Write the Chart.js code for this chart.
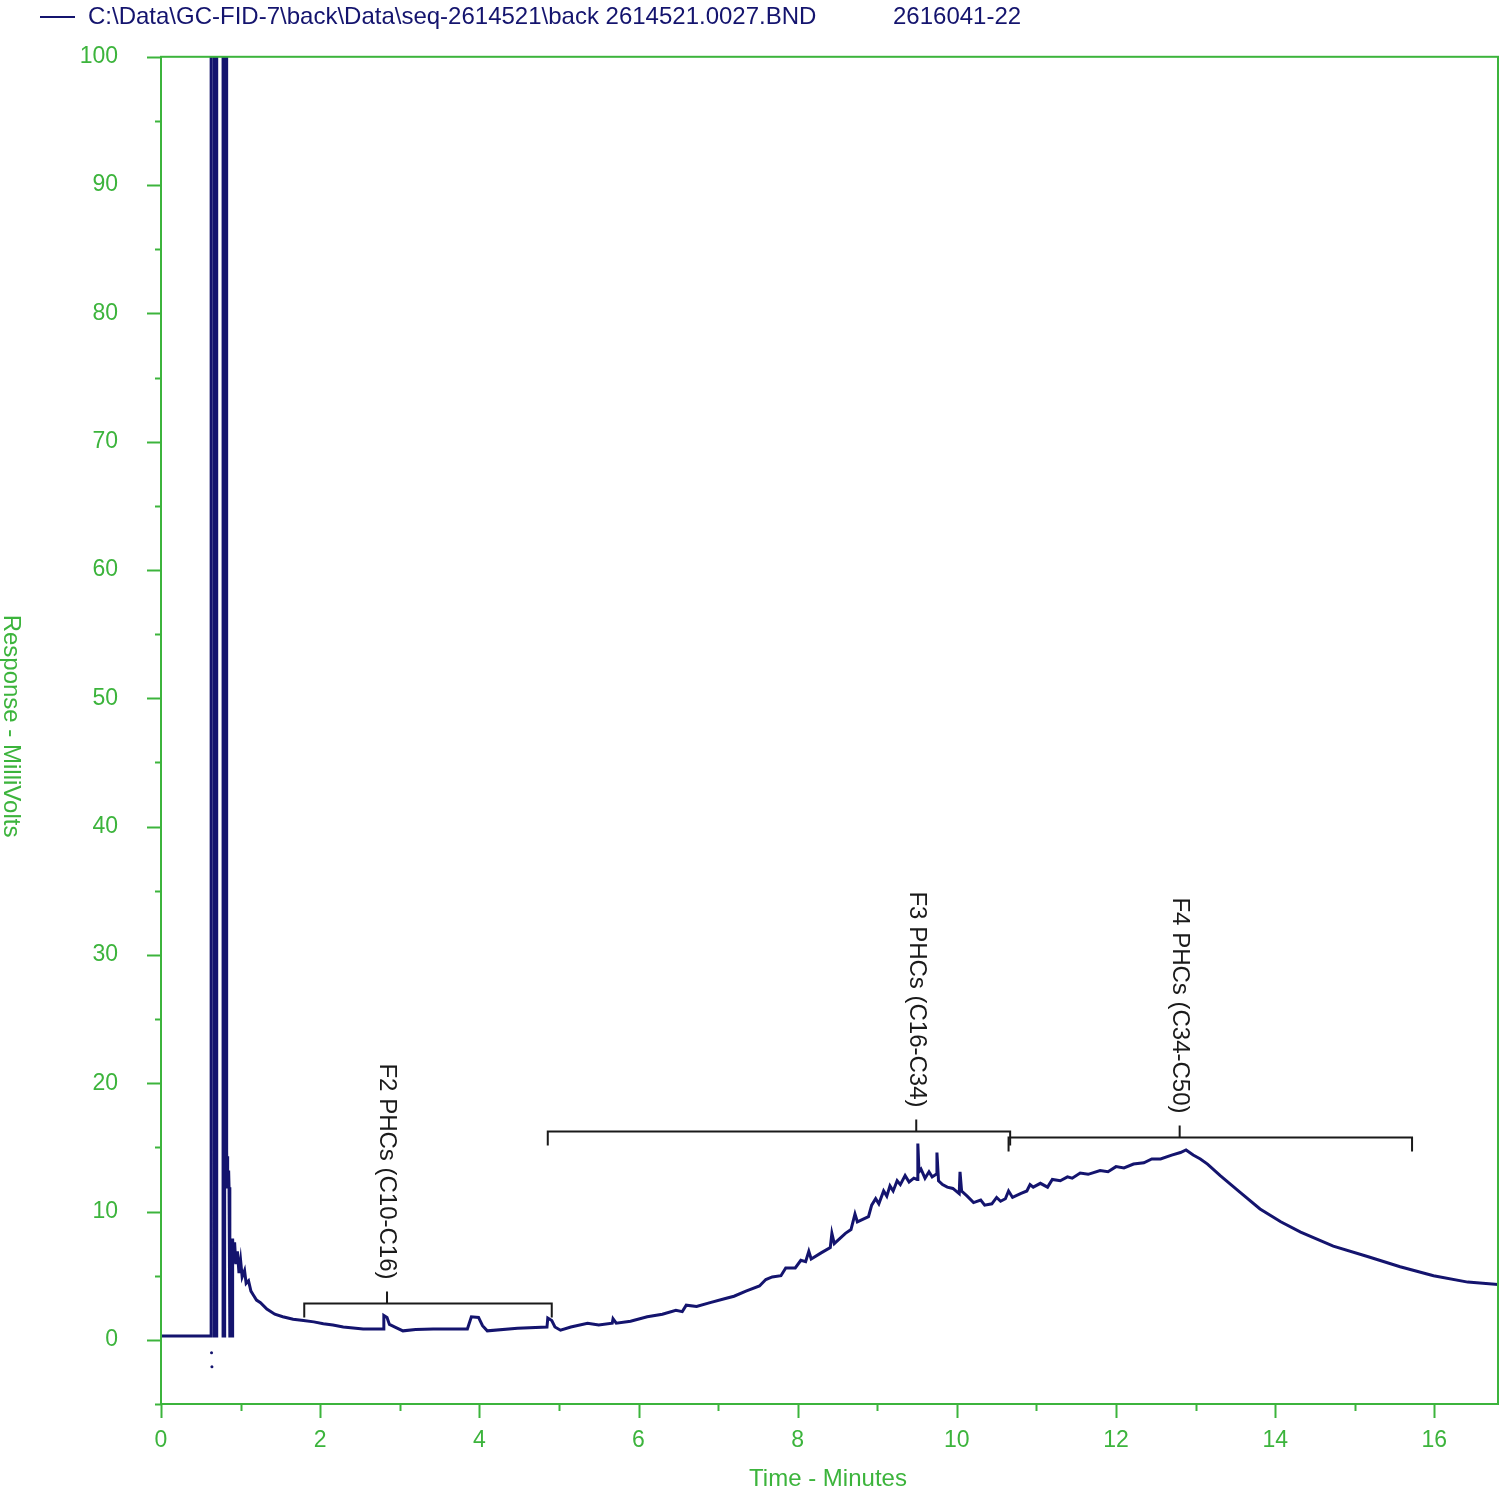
<!DOCTYPE html>
<html>
<head>
<meta charset="utf-8">
<script src="https://cdn.jsdelivr.net/npm/chart.js@4.4.1/dist/chart.umd.min.js"></script>
<style>
  html, body { margin: 0; padding: 0; background: #fff; overflow: hidden; }
  #wrap { width: 1506px; height: 1494px; position: relative; }
  #gc { display: block; }
</style>
</head>
<body>
<div id="wrap"><canvas id="gc"></canvas></div>
<script>
// chromatogram trace (minutes, millivolts)
const times = [
  0, 0.63, 0.63, 0.67, 0.67, 0.70, 0.70, 0.78, 0.78, 0.80, 0.80, 0.825, 0.825, 0.83, 0.835, 0.84, 0.85, 0.855, 0.865, 0.865,
  0.90, 0.90, 0.91, 0.925, 0.94, 0.96, 0.98, 1.00, 1.02, 1.05, 1.07, 1.10, 1.13, 1.16, 1.20, 1.25, 1.33, 1.43, 1.53, 1.66,
  1.79, 1.92, 2.04, 2.16, 2.29, 2.54, 2.79, 2.80, 2.84, 2.87, 2.94, 3.04, 3.20, 3.42, 3.85, 3.90, 3.99, 4.04, 4.10, 4.48,
  4.85, 4.86, 4.91, 4.95, 5.02, 5.15, 5.36, 5.50, 5.67, 5.68, 5.72, 5.90, 6.11, 6.30, 6.47, 6.55, 6.60, 6.73, 6.90, 7.08,
  7.20, 7.35, 7.52, 7.60, 7.68, 7.79, 7.85, 7.97, 8.04, 8.10, 8.14, 8.17, 8.30, 8.41, 8.43, 8.46, 8.60, 8.67, 8.72, 8.75,
  8.89, 8.93, 8.98, 9.02, 9.08, 9.12, 9.16, 9.20, 9.25, 9.29, 9.35, 9.40, 9.46, 9.50, 9.51, 9.525, 9.55, 9.60, 9.65, 9.69,
  9.74, 9.75, 9.77, 9.82, 9.88, 9.95, 10.03, 10.04, 10.06, 10.13, 10.21, 10.30, 10.35, 10.44, 10.50, 10.55, 10.61, 10.65, 10.70, 10.80,
  10.88, 10.92, 10.96, 11.05, 11.14, 11.20, 11.30, 11.39, 11.45, 11.55, 11.65, 11.80, 11.90, 12.00, 12.10, 12.22, 12.35, 12.45, 12.56, 12.70,
  12.81, 12.88, 12.97, 13.06, 13.15, 13.31, 13.56, 13.81, 14.07, 14.32, 14.73, 15.16, 15.57, 15.99, 16.42, 16.81
];
const mv = [
  0.3, 0.3, 130, 130, 0.3, 0.3, 130, 130, 0.3, 0.3, 130, 130, 14.7, 12.2, 14.3, 11.8, 13.2, 11.9, 11.6, 0.3,
  0.3, 7.9, 6.0, 7.6, 5.9, 6.9, 5.2, 6.2, 4.9, 5.4, 4.4, 4.6, 3.8, 3.5, 3.1, 2.9, 2.4, 2.0, 1.8, 1.6,
  1.5, 1.4, 1.25, 1.15, 1.0, 0.85, 0.85, 1.9, 1.75, 1.2, 1.0, 0.7, 0.8, 0.85, 0.85, 1.8, 1.75, 1.1, 0.7, 0.9,
  1.0, 1.7, 1.5, 1.0, 0.75, 1.0, 1.3, 1.15, 1.3, 1.65, 1.3, 1.45, 1.8, 2.0, 2.3, 2.2, 2.7, 2.6, 2.9, 3.2,
  3.4, 3.8, 4.2, 4.7, 4.9, 5.0, 5.6, 5.6, 6.2, 6.1, 6.9, 6.3, 6.8, 7.2, 8.3, 7.5, 8.3, 8.6, 9.8, 9.2,
  9.6, 10.5, 11.0, 10.6, 11.6, 11.2, 12.0, 11.6, 12.4, 12.1, 12.8, 12.3, 12.6, 12.5, 15.3, 13.1, 13.3, 12.6, 13.1, 12.7,
  12.9, 14.6, 12.4, 12.1, 11.9, 11.8, 11.4, 13.1, 11.6, 11.2, 10.7, 10.9, 10.5, 10.6, 11.1, 10.8, 11.0, 11.6, 11.1, 11.4,
  11.6, 12.1, 11.9, 12.2, 11.9, 12.5, 12.4, 12.7, 12.6, 13.0, 12.9, 13.2, 13.1, 13.5, 13.4, 13.7, 13.8, 14.1, 14.1, 14.4,
  14.6, 14.8, 14.4, 14.1, 13.7, 12.8, 11.5, 10.2, 9.2, 8.4, 7.3, 6.5, 5.7, 5.0, 4.5, 4.3
];
// stray points under the solvent peak
const dotTimes = [0.635, 0.64];
const dotMv = [-1.0, -2.1];

// integration ranges
const rangeNames = ["F2 PHCs (C10-C16)", "F3 PHCs (C16-C34)", "F4 PHCs (C34-C50)"];
const rangeStart = [1.80, 4.86, 10.65];
const rangeEnd = [4.91, 10.67, 15.72];
const rangeMid = [2.84, 9.49, 12.80];
const rangeLevel = [2.9, 16.3, 15.8];

const legendFile = "C:\\Data\\GC-FID-7\\back\\Data\\seq-2614521\\back 2614521.0027.BND";
const legendSample = "2616041-22";

const GREEN = "#3cb43c";
const NAVY = "#14146e";
const FONT = "'Liberation Sans', Arial, sans-serif";

const trace = times.map((t, i) => ({ x: t, y: mv[i] }));
const dots = dotTimes.map((t, i) => ({ x: t, y: dotMv[i] }));

const decor = {
  id: "decor",
  afterDraw(chart) {
    const { ctx, chartArea: a, scales: { x, y } } = chart;
    ctx.save();
    // frame
    ctx.strokeStyle = GREEN;
    ctx.lineWidth = 2;
    ctx.strokeRect(a.left, a.top, a.right - a.left, a.bottom - a.top);
    // y ticks
    y.ticks.forEach(t => {
      const py = Math.round(y.getPixelForValue(t.value)) + 0.5;
      const len = t.value % 10 === 0 ? 14 : 6;
      ctx.beginPath();
      ctx.moveTo(a.left - len, py);
      ctx.lineTo(a.left, py);
      ctx.stroke();
    });
    // x ticks
    x.ticks.forEach(t => {
      if (!Number.isInteger(t.value)) return;
      const px = Math.round(x.getPixelForValue(t.value)) + 0.5;
      const len = t.value % 2 === 0 ? 14 : 7;
      ctx.beginPath();
      ctx.moveTo(px, a.bottom);
      ctx.lineTo(px, a.bottom + len);
      ctx.stroke();
    });
    // axis titles
    ctx.fillStyle = GREEN;
    ctx.font = "24px " + FONT;
    ctx.textAlign = "center";
    ctx.textBaseline = "middle";
    ctx.fillText("Time - Minutes", 828, 1479);
    ctx.save();
    ctx.translate(11, 726);
    ctx.rotate(Math.PI / 2);
    ctx.fillText("Response - MilliVolts", 0, 0);
    ctx.restore();
    // legend
    ctx.strokeStyle = NAVY;
    ctx.lineWidth = 2;
    ctx.beginPath();
    ctx.moveTo(40, 17);
    ctx.lineTo(75, 17);
    ctx.stroke();
    ctx.fillStyle = NAVY;
    ctx.textAlign = "left";
    ctx.fillText(legendFile, 88, 17);
    ctx.fillText(legendSample, 893, 17);
    // range brackets
    ctx.strokeStyle = "#1a1a1a";
    ctx.fillStyle = "#1a1a1a";
    ctx.lineWidth = 2;
    rangeNames.forEach((name, i) => {
      const x0 = x.getPixelForValue(rangeStart[i]);
      const x1 = x.getPixelForValue(rangeEnd[i]);
      const xm = x.getPixelForValue(rangeMid[i]);
      const py = Math.round(y.getPixelForValue(rangeLevel[i])) + 0.5;
      ctx.beginPath();
      ctx.moveTo(x0, py + 14);
      ctx.lineTo(x0, py);
      ctx.lineTo(x1, py);
      ctx.lineTo(x1, py + 14);
      ctx.moveTo(xm, py);
      ctx.lineTo(xm, py - 12);
      ctx.stroke();
      ctx.save();
      ctx.translate(xm, py - 24);
      ctx.rotate(Math.PI / 2);
      ctx.font = "24px " + FONT;
      ctx.textAlign = "right";
      ctx.textBaseline = "middle";
      ctx.fillText(name, 0, 0);
      ctx.restore();
    });
    ctx.restore();
  }
};

new Chart(document.getElementById("gc"), {
  type: "scatter",
  data: {
    datasets: [
      {
        data: trace,
        showLine: true,
        borderColor: NAVY,
        borderWidth: 3,
        pointRadius: 0,
        tension: 0,
        clip: 0
      },
      {
        data: dots,
        showLine: false,
        pointRadius: 1.5,
        pointBorderWidth: 0,
        backgroundColor: NAVY
      }
    ]
  },
  options: {
    responsive: true,
    maintainAspectRatio: false,
    animation: false,
    layout: { padding: { top: 56, right: 8, left: 0, bottom: 0 } },
    plugins: { legend: { display: false }, tooltip: { enabled: false } },
    scales: {
      x: {
        type: "linear",
        min: 0,
        max: 16.8,
        afterFit: s => { s.height = 90; },
        grid: { display: false, drawTicks: false },
        border: { display: false },
        ticks: {
          stepSize: 1,
          includeBounds: false,
          autoSkip: false,
          maxRotation: 0,
          padding: 23,
          color: GREEN,
          font: { size: 23, family: FONT },
          callback: v => (Number.isInteger(v) && v % 2 === 0 ? v : "")
        }
      },
      y: {
        min: -5,
        max: 100,
        afterFit: s => { s.width = 161; },
        grid: { display: false, drawTicks: false },
        border: { display: false },
        ticks: {
          stepSize: 5,
          autoSkip: false,
          padding: 43,
          color: GREEN,
          font: { size: 23, family: FONT },
          callback: v => (v % 10 === 0 ? v : "")
        }
      }
    }
  },
  plugins: [decor]
});
</script>
</body>
</html>
